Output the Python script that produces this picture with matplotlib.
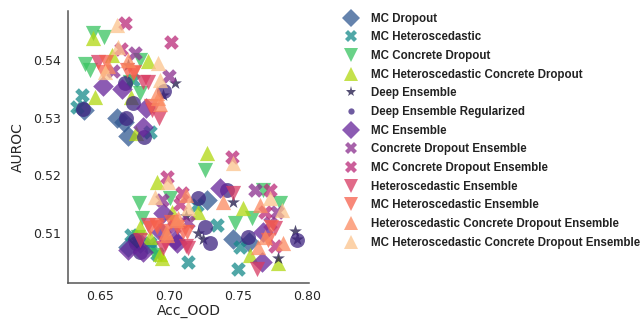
import matplotlib
matplotlib.use("Agg")
import matplotlib.pyplot as plt
from matplotlib.lines import Line2D

# Methods, in legend order
methods = [
    "MC Dropout",
    "MC Heteroscedastic",
    "MC Concrete Dropout",
    "MC Heteroscedastic Concrete Dropout",
    "Deep Ensemble",
    "Deep Ensemble Regularized",
    "MC Ensemble",
    "Concrete Dropout Ensemble",
    "MC Concrete Dropout Ensemble",
    "Heteroscedastic Ensemble",
    "MC Heteroscedastic Ensemble",
    "Heteroscedastic Concrete Dropout Ensemble",
    "MC Heteroscedastic Concrete Dropout Ensemble",
]

# Out-of-distribution accuracy per run
acc_mc_dropout = [0.6384, 0.6674, 0.6703, 0.6703, 0.7275, 0.7464, 0.6790, 0.7580, 0.6620]
acc_mc_het = [0.6370, 0.6333, 0.6739, 0.6862, 0.7348, 0.7138, 0.7500, 0.6862, 0.6913,
              0.7514, 0.7203, 0.6725, 0.6870]
acc_mc_cd = [0.6449, 0.6529, 0.6391, 0.6428, 0.6790, 0.6783, 0.7261, 0.7007, 0.6804,
             0.7478, 0.7601, 0.7804, 0.7681, 0.6775, 0.6899, 0.6717, 0.6790]
acc_mc_hcd = [0.6449, 0.6587, 0.6848, 0.6464, 0.6725, 0.6761, 0.7275, 0.6913, 0.7022,
              0.6790, 0.6935, 0.6949, 0.7536, 0.7587, 0.7790, 0.7210, 0.6862]
acc_de = [0.7043, 0.6957, 0.6703, 0.7123, 0.7210, 0.7246, 0.7464, 0.7913, 0.7928, 0.7790]
acc_de_reg = [0.6964, 0.6688, 0.6819, 0.6739, 0.6377, 0.7210, 0.7261, 0.7297, 0.6754,
              0.7572, 0.7928, 0.7420, 0.6790, 0.6681, 0.6761]
acc_mc_ens = [0.6522, 0.6659, 0.6833, 0.6812, 0.6957, 0.7370, 0.6812, 0.7058, 0.7674,
              0.7681, 0.6700, 0.6942, 0.7043]
acc_cd_ens = [0.6754, 0.7000, 0.6594, 0.6949, 0.7783, 0.7732, 0.7138, 0.7623, 0.7040]
acc_mc_cd_ens = [0.6681, 0.7014, 0.6652, 0.6986, 0.7457, 0.7094, 0.7732, 0.7696, 0.7768,
                 0.7080]
acc_het_ens = [0.6928, 0.6877, 0.6812, 0.6486, 0.6790, 0.6957, 0.7138, 0.7638, 0.7768,
               0.6848, 0.7464, 0.6971, 0.7123, 0.6848]
acc_mc_het_ens = [0.6696, 0.6543, 0.6746, 0.6913, 0.6971, 0.7058, 0.7130, 0.7717, 0.7740,
                  0.6870, 0.6862, 0.6906, 0.7014, 0.7101, 0.6522, 0.6739]
acc_hcd_ens = [0.6558, 0.6703, 0.6920, 0.6935, 0.7123, 0.7065, 0.6986, 0.7391, 0.7696,
               0.7645, 0.7659, 0.7826, 0.6978, 0.7051, 0.6913]
acc_mc_hcd_ens = [0.6623, 0.6630, 0.6920, 0.6935, 0.6899, 0.6993, 0.7464, 0.7732, 0.7819,
                  0.7138, 0.6540]

# AUROC per run
auroc_mc_dropout = [0.5313, 0.5292, 0.5268, 0.5075, 0.5157, 0.5090, 0.5083, 0.5085, 0.5300]
auroc_mc_het = [0.5339, 0.5318, 0.5365, 0.5275, 0.5113, 0.5049, 0.5038, 0.5082, 0.5064,
                0.5075, 0.5148, 0.5096, 0.5075]
auroc_mc_cd = [0.5447, 0.5440, 0.5393, 0.5383, 0.5400, 0.5151, 0.5209, 0.5160, 0.5125,
               0.5117, 0.5125, 0.5151, 0.5174, 0.5092, 0.5061, 0.5362, 0.5343]
auroc_mc_hcd = [0.5438, 0.5409, 0.5398, 0.5336, 0.5336, 0.5273, 0.5238, 0.5188, 0.5136,
                0.5110, 0.5064, 0.5056, 0.5144, 0.5061, 0.5047, 0.5136, 0.5092]
auroc_de = [0.5360, 0.5339, 0.5391, 0.5130, 0.5099, 0.5090, 0.5153, 0.5104, 0.5090, 0.5057]
auroc_de_reg = [0.5346, 0.5299, 0.5266, 0.5325, 0.5315, 0.5160, 0.5110, 0.5083, 0.5087,
                0.5092, 0.5087, 0.5174, 0.5066, 0.5360, 0.5082]
auroc_mc_ens = [0.5355, 0.5350, 0.5317, 0.5283, 0.5134, 0.5177, 0.5066, 0.5083, 0.5049,
                0.5101, 0.5070, 0.5101, 0.5087]
auroc_cd_ens = [0.5412, 0.5372, 0.5381, 0.5157, 0.5136, 0.5117, 0.5118, 0.5174, 0.5110]
auroc_mc_cd_ens = [0.5464, 0.5431, 0.5419, 0.5197, 0.5231, 0.5169, 0.5174, 0.5136, 0.5078,
                   0.5150]
auroc_het_ens = [0.5299, 0.5313, 0.5362, 0.5397, 0.5087, 0.5073, 0.5073, 0.5038, 0.5108,
                 0.5113, 0.5169, 0.5083, 0.5078, 0.5362]
auroc_mc_het_ens = [0.5383, 0.5397, 0.5379, 0.5110, 0.5104, 0.5110, 0.5101, 0.5087, 0.5110,
                    0.5320, 0.5108, 0.5113, 0.5118, 0.5101, 0.5379, 0.5377]
auroc_hcd_ens = [0.5390, 0.5400, 0.5334, 0.5324, 0.5165, 0.5125, 0.5096, 0.5153, 0.5092,
                 0.5075, 0.5148, 0.5083, 0.5101, 0.5122, 0.5343]
auroc_mc_hcd_ens = [0.5461, 0.5423, 0.5395, 0.5365, 0.5162, 0.5188, 0.5221, 0.5160, 0.5139,
                    0.5144, 0.5380]

acc_all = [acc_mc_dropout, acc_mc_het, acc_mc_cd, acc_mc_hcd, acc_de, acc_de_reg,
           acc_mc_ens, acc_cd_ens, acc_mc_cd_ens, acc_het_ens, acc_mc_het_ens,
           acc_hcd_ens, acc_mc_hcd_ens]
auroc_all = [auroc_mc_dropout, auroc_mc_het, auroc_mc_cd, auroc_mc_hcd, auroc_de,
             auroc_de_reg, auroc_mc_ens, auroc_cd_ens, auroc_mc_cd_ens, auroc_het_ens,
             auroc_mc_het_ens, auroc_hcd_ens, auroc_mc_hcd_ens]

colors = ["#315992", "#168a8a", "#38c460", "#b0d810", "#1c1446", "#3e2480",
          "#66249a", "#8a2e8e", "#ba2a78", "#d83a62", "#f6604c", "#fb8a60", "#fcc48c"]
markers = ["D", "X", "v", "^", "*", "o", "D", "X", "X", "v", "v", "^", "^"]
scatter_sizes = [110, 110, 120, 120, 95, 115, 110, 110, 110, 120, 120, 120, 120]
legend_sizes = [9.5, 9.0, 9.5, 9.5, 8.0, 4.5, 9.5, 9.0, 9.0, 9.5, 9.5, 9.5, 9.5]
ALPHA = 0.75

plt.rcParams["font.family"] = "DejaVu Sans"
fig = plt.figure(figsize=(6.41, 3.2), dpi=100)
ax = fig.add_axes([0.106, 0.1156, 0.376, 0.85])

for xs, ys, c, m, s in zip(acc_all, auroc_all, colors, markers, scatter_sizes):
    ax.scatter(xs, ys, c=c, marker=m, s=s, alpha=ALPHA, linewidths=0)

ax.set_xlim(0.6268, 0.8015)
ax.set_ylim(0.5013, 0.5485)
ax.set_xticks([0.65, 0.70, 0.75, 0.80])
ax.set_xticklabels(["0.65", "0.70", "0.75", "0.80"])
ax.set_yticks([0.51, 0.52, 0.53, 0.54])
ax.set_yticklabels(["0.51", "0.52", "0.53", "0.54"])
ax.tick_params(length=0, labelsize=9, colors="#262626", pad=5)
ax.set_xlabel("Acc_OOD", fontsize=10, color="#262626", labelpad=0.5)
ax.set_ylabel("AUROC", fontsize=10, color="#262626", labelpad=6)
for side in ("top", "right"):
    ax.spines[side].set_visible(False)
for side in ("left", "bottom"):
    ax.spines[side].set_color("#555555")
    ax.spines[side].set_linewidth(1.1)

handles = [Line2D([], [], linestyle="none", marker=m, markersize=ms, color=c,
                  alpha=ALPHA, markeredgewidth=0)
           for m, ms, c in zip(markers, legend_sizes, colors)]
fig.legend(handles, methods, loc="upper left", bbox_to_anchor=(0.526, 0.975),
           frameon=False, prop={"family": "Liberation Sans", "weight": "bold", "size": 8.3},
           labelcolor="#222222", labelspacing=0.58, handletextpad=0.9, handlelength=1.6,
           borderaxespad=0)

fig.savefig("out.png", dpi=100)
